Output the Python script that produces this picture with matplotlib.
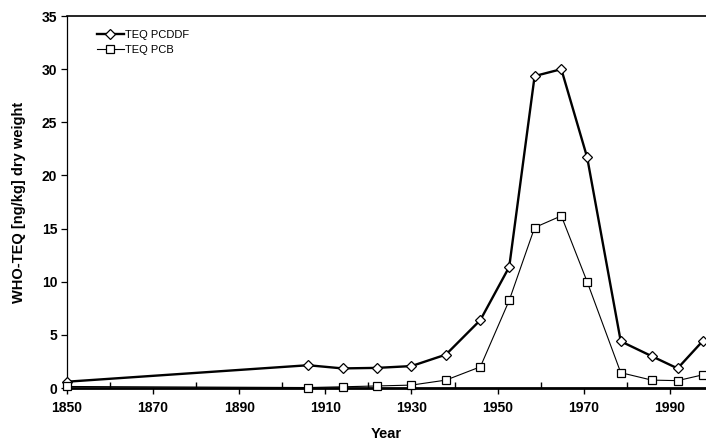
#!/usr/bin/env python3
"""Sediment core WHO-TEQ profile, PCDD/F vs PCB."""

import matplotlib

matplotlib.use("Agg")
import matplotlib.pyplot as plt
from matplotlib.ticker import MultipleLocator

years = [1850, 1906, 1914, 1922, 1930, 1938, 1946, 1952.7, 1958.6, 1964.8,
         1970.8, 1978.6, 1985.8, 1991.8, 1997.7]
teq_pcddf = [0.6, 2.15, 1.85, 1.9, 2.07, 3.15, 6.4, 11.4, 29.35, 30.0,
             21.7, 4.4, 3.0, 1.85, 4.45]
teq_pcb = [0.15, 0.05, 0.12, 0.2, 0.28, 0.75, 2.0, 8.25, 15.1, 16.2,
           10.0, 1.45, 0.75, 0.7, 1.25]
year_labels = [1850, 1870, 1890, 1910, 1930, 1950, 1970, 1990]

plt.rcParams["font.family"] = ["Liberation Sans", "DejaVu Sans"]

fig = plt.figure(figsize=(7.06, 4.41), dpi=100)
ax = fig.add_axes([0.0949, 0.120, 0.9051, 0.8437])

ax.plot(years, teq_pcddf, color="black", linewidth=1.7, marker="D",
        markersize=5.2, markerfacecolor="white", markeredgecolor="black",
        markeredgewidth=0.9, label="TEQ PCDDF", clip_on=False, zorder=3)
ax.plot(years, teq_pcb, color="black", linewidth=0.8, marker="s",
        markersize=5.8, markerfacecolor="white", markeredgecolor="black",
        markeredgewidth=0.9, label="TEQ PCB", clip_on=False, zorder=3)

ax.set_xlim(1850, 1998.4)
ax.set_ylim(0, 35)
ax.set_xticks(year_labels)
ax.set_xticks([y + 10 for y in year_labels if y + 10 < 1998], minor=True)
ax.yaxis.set_major_locator(MultipleLocator(5))

ax.spines["right"].set_visible(False)
ax.spines["bottom"].set_linewidth(2.0)
ax.spines["left"].set_linewidth(0.9)
ax.spines["top"].set_linewidth(1.2)

ax.tick_params(axis="x", which="major", direction="out", length=4, width=1,
               labelsize=10, pad=5)
ax.tick_params(axis="x", which="minor", direction="in", length=4, width=1)
ax.tick_params(axis="y", which="major", direction="out", length=4, width=0.9,
               labelsize=10, pad=3)
for lab in ax.get_xticklabels() + ax.get_yticklabels():
    lab.set_fontweight("bold")

ax.set_xlabel("Year", fontsize=10.5, fontweight="bold", labelpad=9)
ax.set_ylabel("WHO-TEQ [ng/kg] dry weight", fontsize=10.5, fontweight="bold",
              labelpad=11)

ax.legend(loc="upper left", bbox_to_anchor=(0.04, 0.975), frameon=False,
          fontsize=8, handlelength=2.4, handletextpad=0.1, labelspacing=0.45,
          borderaxespad=0)

fig.savefig("out.png", dpi=100)
